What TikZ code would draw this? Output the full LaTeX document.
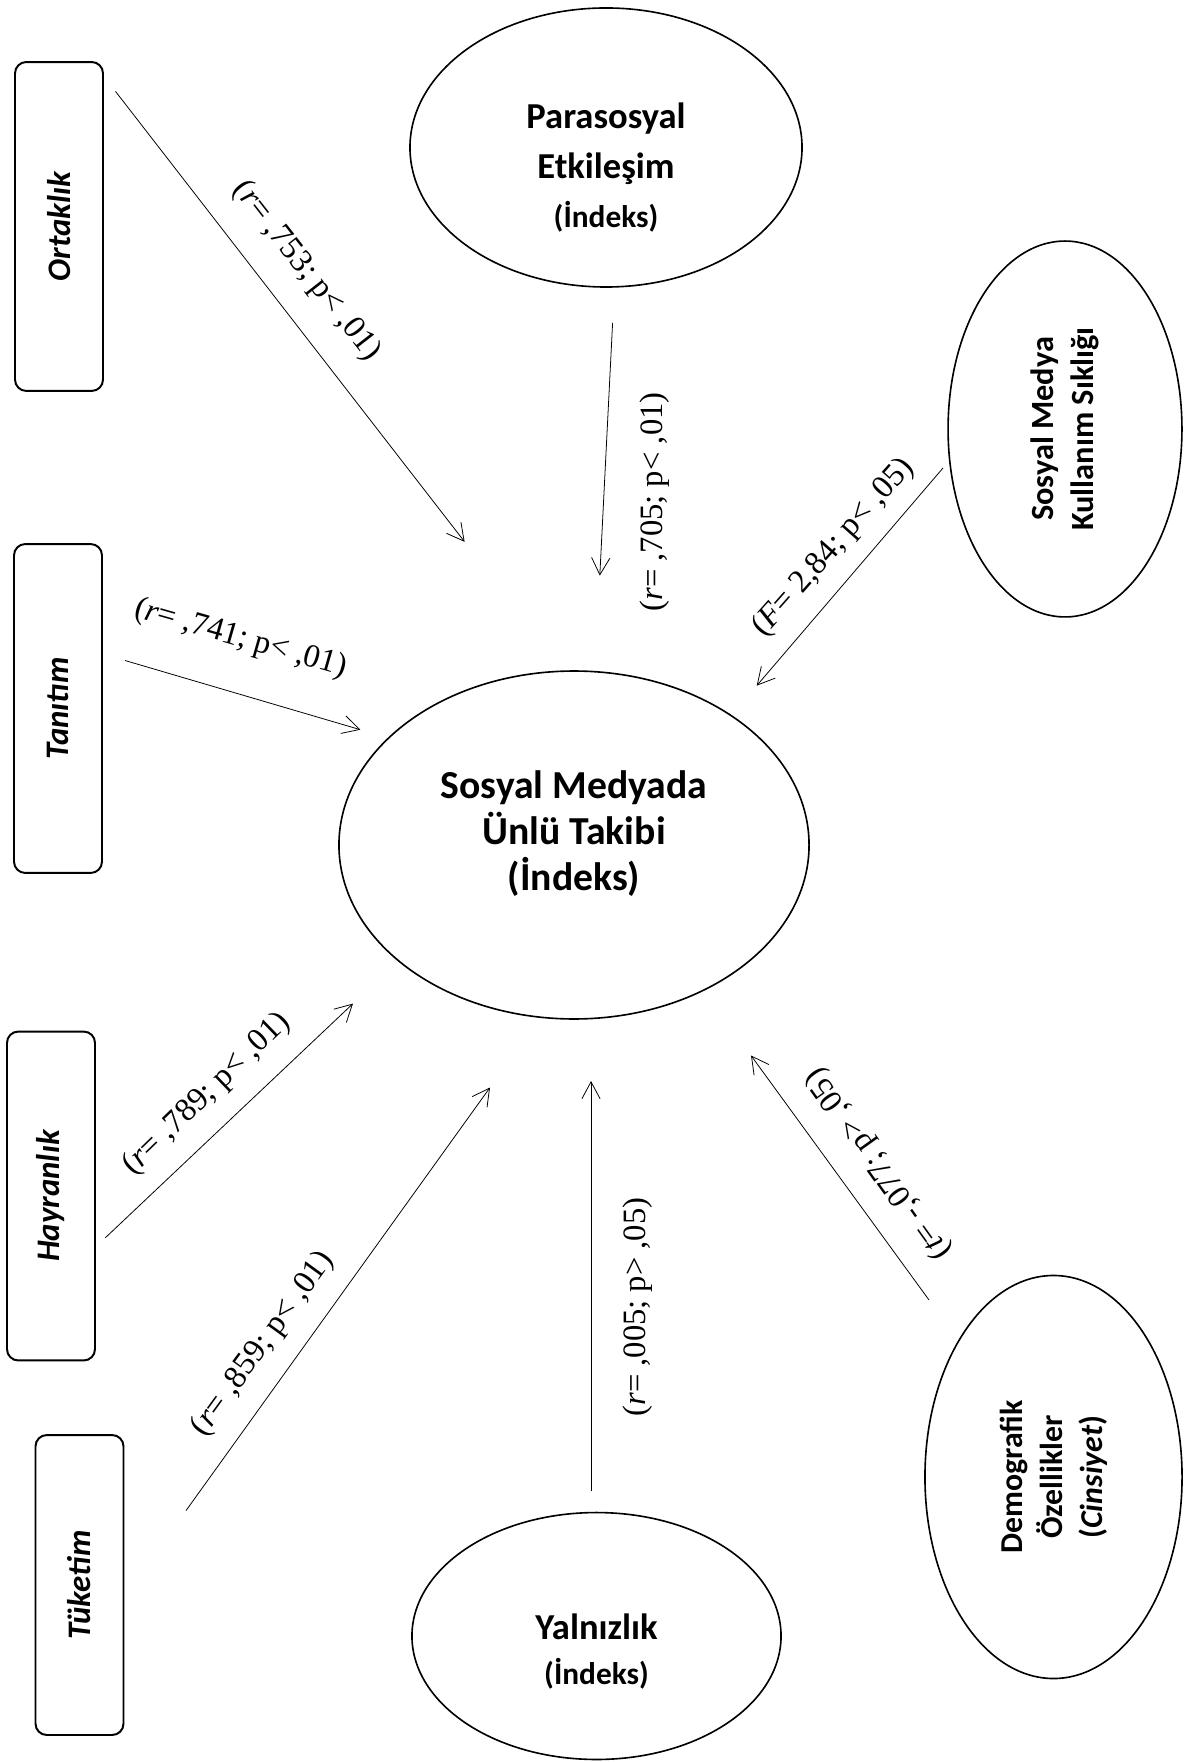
\documentclass[tikz,border=0pt]{standalone}
\usepackage{fontspec}
\setmainfont{Carlito}
\newfontfamily\timesfont{Liberation Serif}
\usetikzlibrary{arrows.meta,shapes.geometric}

\begin{document}
\begin{tikzpicture}[
  x=0.3831pt, y=-0.3831pt,
  box/.style={draw,line width=0.75pt,rounded corners=4.3pt,rotate=90,inner sep=0pt,minimum width=126pt,minimum height=33.7pt,font=\fontsize{12.6}{14}\selectfont\bfseries\itshape},
  oval/.style={draw,ellipse,line width=0.62pt,inner sep=0pt,align=center},
  lbl/.style={font=\timesfont\fontsize{12.5}{14}\selectfont,inner sep=0pt},
  arrow/.style={-{Straight Barb[length=6.5pt,width=7pt]},line width=0.3pt}
]
\useasboundingbox (0,0) rectangle (1183,1762);
\node[box] (ort) at (59,226.5) {Ortaklık};
\node[box] (tan) at (58,708.5) {Tanıtım};
\node[box] (hay) at (51,1196) {Hayranlık};
\node[box,minimum width=114.9pt] (tuk) at (79.5,1585) {Tüketim};
\node[oval,minimum width=150.2pt,minimum height=106.9pt,label={[align=center,yshift=-7.7pt,font=\fontsize{14}{19}\selectfont\bfseries]center:Parasosyal\\Etkileşim\\{\fontsize{12}{17}\selectfont(İndeks)}}] (para) at (606,147.5) {};
\node[oval,minimum width=180.1pt,minimum height=133.3pt,label={[align=center,yshift=4.3pt,font=\fontsize{15.2}{17.6}\selectfont\bfseries]center:Sosyal Medyada\\Ünlü Takibi\\(İndeks)}] (takip) at (574,845) {};
\node[oval,rotate=90,minimum width=144pt,minimum height=89.6pt,font=\fontsize{12.4}{15.3}\selectfont\bfseries] (smk) at (1065,429) {Sosyal Medya\\Kullanım Sıklığı};
\node[oval,rotate=90,minimum width=154.4pt,minimum height=98.5pt,font=\fontsize{12.2}{15.3}\selectfont\bfseries] (demo) at (1053.5,1477) {Demografik\\Özellikler\\(\textit{Cinsiyet})};
\node[oval,minimum width=141.4pt,minimum height=94.6pt,label={[align=center,yshift=-6pt,font=\fontsize{14}{17}\selectfont\bfseries]center:Yalnızlık\\{\fontsize{12}{17}\selectfont(İndeks)}}] (yal) at (596.5,1636) {};
\coordinate (ortS) at (115.5,91.4);
\coordinate (ortE) at (464.6,541.8);
\coordinate (paraS) at (612.6,322.8);
\coordinate (paraE) at (599.8,575.6);
\coordinate (smkS) at (943,468);
\coordinate (smkE) at (756.7,685.7);
\coordinate (tanS) at (125,660.5);
\coordinate (tanE) at (360.4,729.7);
\coordinate (hayS) at (105.3,1237.8);
\coordinate (hayE) at (353,1003.6);
\coordinate (tukS) at (186,1510.6);
\coordinate (tukE) at (490,1087.5);
\coordinate (yalS) at (591,1491);
\coordinate (yalE) at (591,1081);
\coordinate (demoS) at (929,1300);
\coordinate (demoE) at (751,1055.5);
\draw[arrow] (ortS) -- (ortE);
\draw[arrow] (paraS) -- (paraE);
\draw[arrow] (smkS) -- (smkE);
\draw[arrow] (tanS) -- (tanE);
\draw[arrow] (hayS) -- (hayE);
\draw[arrow] (tukS) -- (tukE);
\draw[arrow] (yalS) -- (yalE);
\draw[arrow] (demoS) -- (demoE);
\node[lbl,rotate=-52] (lort) at (306.6,271) {(\textit{r}= ,753; p< ,01)};
\node[lbl,rotate=90] (lpara) at (655,502) {(\textit{r}= ,705; p< ,01)};
\node[lbl,rotate=48.5] (lsmk) at (833.5,547.7) {(\textit{F}= 2,84; p< ,05)};
\node[lbl,rotate=-16] (ltan) at (240.7,638.7) {(\textit{r}= ,741; p< ,01)};
\node[lbl,rotate=44] (lhay) at (207,1094) {(\textit{r}= ,789; p< ,01)};
\node[lbl,rotate=54] (ltuk) at (263,1344) {(\textit{r}= ,859; p< ,01)};
\node[lbl,rotate=90] (lyal) at (638,1307) {(\textit{r}= ,005; p> ,05)};
\node[lbl,rotate=125.5] (ldemo) at (879,1164) {(\textit{t}= -,077; p> ,05)};
\end{tikzpicture}
\end{document}
